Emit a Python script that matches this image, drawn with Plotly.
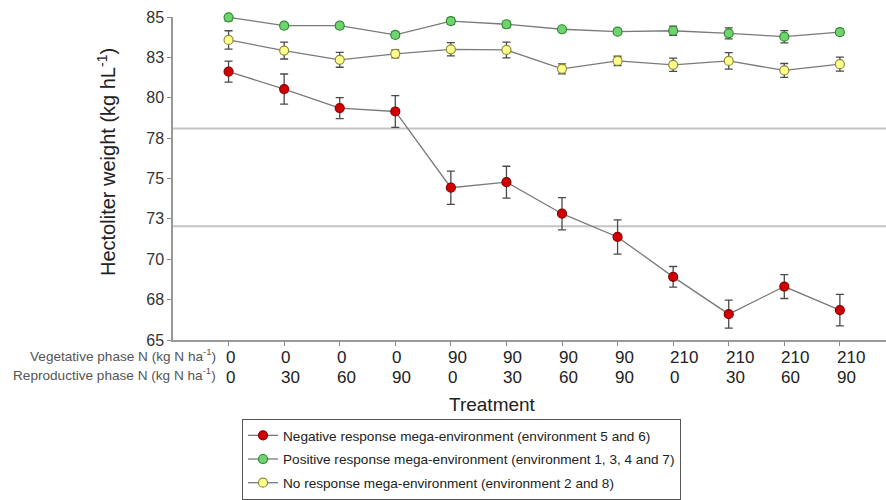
import plotly.graph_objects as go

veg_n = ["0", "0", "0", "0", "90", "90", "90", "90", "210", "210", "210", "210"]
rep_n = ["0", "30", "60", "90", "0", "30", "60", "90", "0", "30", "60", "90"]

neg_mean = [81.62, 80.54, 79.36, 79.15, 74.43, 74.77, 72.82, 71.38, 68.91, 66.60, 68.31, 66.85]
neg_err = [0.65, 0.93, 0.65, 0.98, 1.03, 0.99, 1.00, 1.06, 0.64, 0.87, 0.74, 0.98]

pos_mean = [84.98, 84.46, 84.46, 83.89, 84.75, 84.55, 84.24, 84.09, 84.15, 83.99, 83.78, 84.06]
pos_err = [0.22, 0.18, 0.18, 0.18, 0.20, 0.20, 0.16, 0.16, 0.28, 0.34, 0.38, 0.20]

no_mean = [83.58, 82.92, 82.35, 82.72, 83.00, 82.96, 81.79, 82.28, 82.04, 82.28, 81.69, 82.08]
no_err = [0.57, 0.52, 0.46, 0.25, 0.41, 0.49, 0.31, 0.29, 0.41, 0.51, 0.43, 0.43]

y_tickvals = [65, 67.5, 70, 72.5, 75, 77.5, 80, 82.5, 85]
y_ticktext = ["65", "68", "70", "73", "75", "78", "80", "83", "85"]

ref_lines = [78.1, 72.05]

series = [
    ("Negative response mega-environment (environment 5 and 6)", neg_mean, neg_err, "#d00000", "#8a0000"),
    ("Positive response mega-environment (environment 1, 3, 4 and 7)", pos_mean, pos_err, "#6fd46f", "#2e8b2e"),
    ("No response mega-environment (environment 2 and 8)", no_mean, no_err, "#ffff8c", "#8c8c3c"),
]

x = list(range(len(veg_n)))
FONT = "Liberation Sans, Arial, sans-serif"
W, H = 886, 500
L, T, B = 173, 17, 160
PW, PH = W - L, H - T - B

fig = go.Figure()
for k, (name, m, e, fill, edge) in enumerate(series):
    fig.add_trace(go.Scatter(
        x=x, y=m, name=name, mode="lines+markers", legendgroup="g%d" % k,
        line=dict(color="#7a7a7a", width=1.3),
        marker=dict(size=9, color=fill, line=dict(color=edge, width=1.2)),
        error_y=dict(type="data", array=e, visible=True, color="#4a4a4a", thickness=1.3, width=4),
        cliponaxis=False,
    ))

for yv in ref_lines:
    fig.add_shape(type="line", xref="paper", x0=0, x1=1, yref="y", y0=yv, y1=yv,
                  line=dict(color="#c4c4c4", width=2), layer="below")

def py(pix):
    return (H - B - pix) / PH

def px(pix):
    return (pix - L) / PW

ann = []
for i in x:
    ann.append(dict(x=i, y=py(357), xref="x", yref="paper", text=veg_n[i], showarrow=False,
                    xanchor="left", yanchor="middle", xshift=-5, font=dict(size=17, color="#222", family=FONT)))
    ann.append(dict(x=i, y=py(377), xref="x", yref="paper", text=rep_n[i], showarrow=False,
                    xanchor="left", yanchor="middle", xshift=-5, font=dict(size=17, color="#222", family=FONT)))
ann.append(dict(x=px(218), y=py(355), xref="paper", yref="paper", xanchor="right", yanchor="middle",
                text="Vegetative phase N (kg N ha<sup>-1</sup>)", showarrow=False,
                font=dict(size=13.6, color="#555", family=FONT)))
ann.append(dict(x=px(218), y=py(374), xref="paper", yref="paper", xanchor="right", yanchor="middle",
                text="Reproductive phase N (kg N ha<sup>-1</sup>)", showarrow=False,
                font=dict(size=13.6, color="#555", family=FONT)))
ann.append(dict(x=px(492), y=py(404), xref="paper", yref="paper", xanchor="center", yanchor="middle",
                text="Treatment", showarrow=False, font=dict(size=19, color="#222", family=FONT)))
ann.append(dict(x=px(106), y=py(162), xref="paper", yref="paper", xanchor="center", yanchor="middle",
                textangle=-90, text="Hectoliter weight (kg hL<sup>-1</sup>)", showarrow=False,
                font=dict(size=20, color="#222", family=FONT)))

fig.update_layout(
    width=W, height=H,
    margin=dict(l=L, r=0, t=T, b=B, autoexpand=False),
    plot_bgcolor="white", paper_bgcolor="white",
    font=dict(family=FONT, color="#222"),
    showlegend=True,
    legend=dict(x=242 / W, y=(H - 419) / H, xref="container", yref="container", xanchor="left", yanchor="top",
                bordercolor="#555", borderwidth=1, bgcolor="white",
                font=dict(size=13.6, color="#222", family=FONT), tracegroupgap=3),
    annotations=ann,
    xaxis=dict(range=[-1, 11.83], tickvals=x, ticktext=[""] * len(x), ticks="outside", ticklen=4,
               tickcolor="#888", showline=True, linecolor="#999", linewidth=1.5,
               showgrid=False, zeroline=False, fixedrange=True),
    yaxis=dict(range=[65, 85], tickvals=y_tickvals, ticktext=y_ticktext, ticks="outside", ticklen=4,
               tickcolor="#888", showline=True, linecolor="#999", linewidth=1.5,
               showgrid=False, zeroline=False, tickfont=dict(size=16, color="#333")),
)

fig.write_html("out.html")
